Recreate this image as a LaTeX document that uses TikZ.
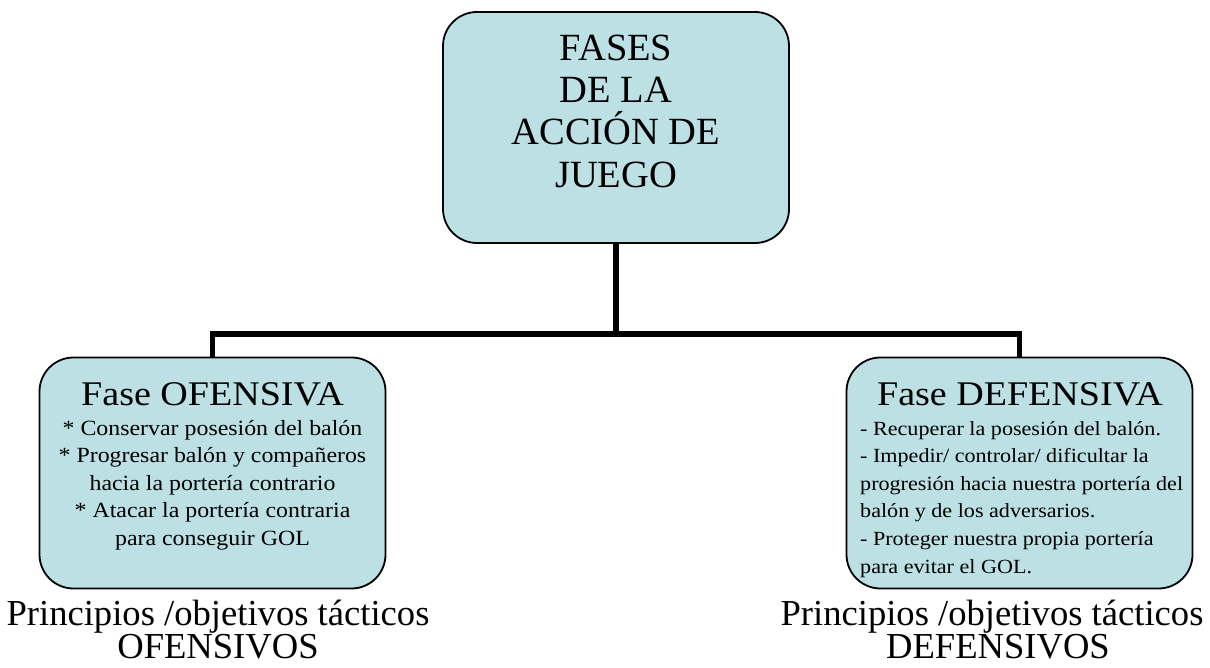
\documentclass[tikz,border=0pt]{standalone}
\usepackage{fontspec}
\setmainfont{Liberation Serif}
\newfontfamily\widefont[FakeStretch=1.1]{Liberation Serif}
\definecolor {boxcyan}{RGB}{188,224,228}
\tikzstyle{fasebox} = [draw=black, line width=1.8pt, fill=boxcyan, rounded corners=34pt, minimum width=346pt, minimum height=231pt, inner sep=0pt]

\begin{document}
\begin{tikzpicture}[x=1pt,y=-1pt,
			link/.style={line width=5.5pt},
			head/.style={inner sep=0pt, anchor=base, font=\widefont\fontsize{34.6}{36}\selectfont},
			lista/.style={inner sep=0pt, anchor=north, align=center, font=\widefont\fontsize{21.7}{27.5}\selectfont},
			principio/.style={inner sep=0pt, anchor=north, align=center, font=\fontsize{36.6}{33}\selectfont}]
			\useasboundingbox (0,0) rectangle (1210,668);
			
			\node (fases)[fasebox] at (616,127.5){};
			\node (ofensiva)[fasebox] at (212.5,473){};
			\node (defensiva)[fasebox] at (1019.5,473){};
			\coordinate (bar) at (616,334);
			
			\draw[link] (fases.south) -- (bar);
			\draw[link] (ofensiva.north) |- (bar) -| (defensiva.north);
			
			\node (fasestxt)[inner sep=0pt, anchor=north, align=center, font=\fontsize{38.5}{42.3}\selectfont] at (616,34.5)
				{FASES\\ DE LA\\ ACCIÓN DE\\ JUEGO};
			
			\node (oftitle)[head] at (212.5,405){Fase OFENSIVA};
			\node (oflista)[lista] at (212.5,420)
				{* Conservar posesión del balón\\ * Progresar balón y compañeros\\ hacia la portería contrario\\ * Atacar la portería contraria\\ para conseguir GOL};
			
			\node (deftitle)[head] at (1020,405){Fase DEFENSIVA};
			\node (deflista)[lista, anchor=north west, align=left, font=\widefont\fontsize{20.1}{27.6}\selectfont] at (860,421)
				{- Recuperar la posesión del balón.\\ - Impedir/ controlar/ dificultar la\\ progresión hacia nuestra portería del\\ balón y de los adversarios.\\ - Proteger nuestra propia portería\\ para evitar el GOL.};
			
			\node (ofprin)[principio] at (218,600){Principios /objetivos tácticos\\ OFENSIVOS};
			\node (defprin)[principio] at (992,600){Principios /objetivos tácticos\\ \hspace{12pt}DEFENSIVOS};
		\end{tikzpicture}
\end{document}
